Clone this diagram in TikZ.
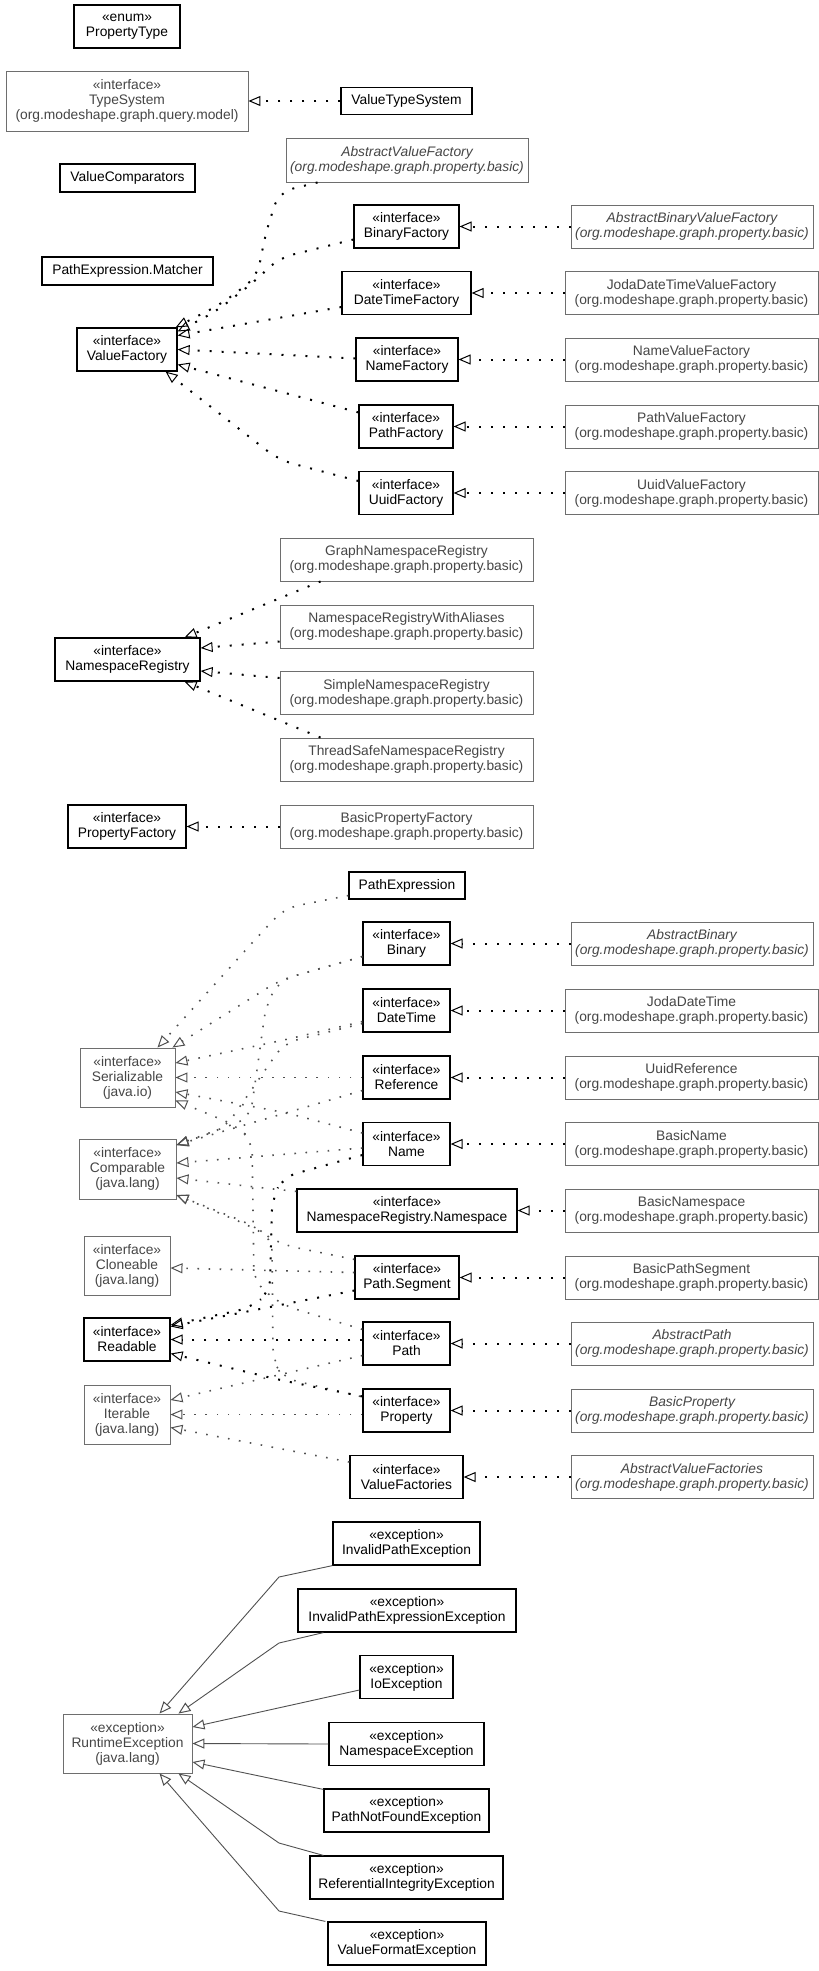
\documentclass[tikz,border=0pt]{standalone}
\usepackage{fontspec}
\setmainfont{Liberation Sans}
\usetikzlibrary{arrows.meta,calc}
\definecolor{extb}{RGB}{110,110,110}
\definecolor{extt}{RGB}{70,70,70}
\definecolor{edgeg}{RGB}{80,80,80}
\newcommand\pkgb{(org.modeshape.graph.property.basic)}
\newcommand\ifc{«interface»\\}
\newcommand\exc{«exception»\\}
\tikzset{
 box/.style={draw, rectangle, inner sep=0pt, align=center, fill=white, font=\fontsize{13.8}{15}\selectfont},
 cls/.style={box, draw=black, line width=1.2pt, text=black},
 ext/.style={box, draw=extb, line width=0.9pt, text=extt},
 exti/.style={ext, font=\fontsize{13.8}{15}\selectfont\itshape},
 tip/.style={-{Triangle[open,length=12pt,width=10pt,line width=1pt]}},
 realb/.style={tip, draw=black, line width=2pt, dash pattern=on 2pt off 10pt, rounded corners=14pt},
 realg/.style={tip, draw=edgeg, line width=1.6pt, dash pattern=on 1.6pt off 9.5pt, rounded corners=14pt},
 gen/.style={tip, draw=edgeg, line width=0.9pt},
 s2/.style={minimum height=43pt},
 s3/.style={minimum height=59pt},
 s1/.style={minimum height=27pt},
}
\begin{document}
\begin{tikzpicture}[x=1pt,y=-1pt]
\useasboundingbox (0,0) rectangle (819,1971);
% ---------- top ----------
\node[cls,s2,minimum width=106pt] (pt) at (127,26.5) {«enum»\\PropertyType};
\node[ext,minimum width=242pt,minimum height=60pt] (ts) at (127,101) {\ifc TypeSystem\\(org.modeshape.graph.query.model)};
\node[cls,s1,minimum width=131pt] (vts) at (406.5,101) {ValueTypeSystem};
\node[cls,minimum height=28pt,minimum width=135pt] (vc) at (127.5,178) {ValueComparators};
\node[cls,minimum height=28pt,minimum width=171pt] (pem) at (127.5,271) {PathExpression.Matcher};
% ---------- value factories ----------
\node[exti,minimum width=242pt,minimum height=44pt] (avf) at (407,160) {AbstractValueFactory\\\pkgb};
\node[cls,s2,minimum width=100pt] (vf) at (127,349.5) {\ifc ValueFactory};
\node[cls,s2,minimum width=105pt] (bf) at (406.5,226.5) {\ifc BinaryFactory};
\node[cls,s2,minimum width=129pt] (dtf) at (406.5,293) {\ifc DateTimeFactory};
\node[cls,s2,minimum width=102pt] (nf) at (407,359.5) {\ifc NameFactory};
\node[cls,s2,minimum width=94pt] (pf) at (406,426.5) {\ifc PathFactory};
\node[cls,s2,minimum width=94pt] (uf) at (406,493) {\ifc UuidFactory};
\node[exti,s2,minimum width=242pt] (abvf) at (692,226.5) {AbstractBinaryValueFactory\\\pkgb};
\node[ext,s2,minimum width=253pt] (jdtvf) at (691.5,293) {JodaDateTimeValueFactory\\\pkgb};
\node[ext,s2,minimum width=253pt] (nvf) at (691.5,359.5) {NameValueFactory\\\pkgb};
\node[ext,s2,minimum width=253pt] (pvf) at (691.5,426.5) {PathValueFactory\\\pkgb};
\node[ext,s2,minimum width=253pt] (uvf) at (691.5,493) {UuidValueFactory\\\pkgb};
% ---------- namespace registry ----------
\node[cls,s2,minimum width=145pt] (nr) at (127.5,659.5) {\ifc NamespaceRegistry};
\node[ext,s2,minimum width=253pt] (gnr) at (406.5,559.5) {GraphNamespaceRegistry\\\pkgb};
\node[ext,s2,minimum width=253pt] (nrwa) at (406.5,626.5) {NamespaceRegistryWithAliases\\\pkgb};
\node[ext,s2,minimum width=253pt] (snr) at (406.5,693) {SimpleNamespaceRegistry\\\pkgb};
\node[ext,s2,minimum width=253pt] (tsnr) at (406.5,759.5) {ThreadSafeNamespaceRegistry\\\pkgb};
\node[cls,s2,minimum width=118pt] (pfac) at (127,826.5) {\ifc PropertyFactory};
\node[ext,s2,minimum width=253pt] (bpf) at (406.5,826.5) {BasicPropertyFactory\\\pkgb};
% ---------- middle ----------
\node[cls,s1,minimum width=116pt] (pe) at (407,885.5) {PathExpression};
\node[cls,s2,minimum width=87pt] (bin) at (406.5,943.5) {\ifc Binary};
\node[cls,s2,minimum width=87pt] (dt) at (406.5,1010.5) {\ifc DateTime};
\node[cls,s2,minimum width=87pt] (ref) at (406.5,1077.5) {\ifc Reference};
\node[cls,s2,minimum width=87pt] (name) at (406.5,1144) {\ifc Name};
\node[cls,s2,minimum width=220pt] (ns) at (407,1210.5) {\ifc NamespaceRegistry.Namespace};
\node[cls,s2,minimum width=104pt] (seg) at (407,1277.5) {\ifc Path.Segment};
\node[cls,s2,minimum width=87pt] (path) at (406.5,1343.5) {\ifc Path};
\node[cls,s2,minimum width=87pt] (prop) at (406.5,1410.5) {\ifc Property};
\node[cls,s2,minimum width=113pt] (vfs) at (406.5,1477) {\ifc ValueFactories};
\node[exti,s2,minimum width=242pt] (ab) at (692,943.5) {AbstractBinary\\\pkgb};
\node[ext,s2,minimum width=253pt] (jdt) at (691.5,1010.5) {JodaDateTime\\\pkgb};
\node[ext,s2,minimum width=253pt] (uref) at (691.5,1077.5) {UuidReference\\\pkgb};
\node[ext,s2,minimum width=253pt] (bn) at (691.5,1144) {BasicName\\\pkgb};
\node[ext,s2,minimum width=253pt] (bns) at (691.5,1210.5) {BasicNamespace\\\pkgb};
\node[ext,s2,minimum width=253pt] (bps) at (691.5,1277.5) {BasicPathSegment\\\pkgb};
\node[exti,s2,minimum width=242pt] (ap) at (692,1343.5) {AbstractPath\\\pkgb};
\node[exti,s2,minimum width=242pt] (bp) at (692,1410.5) {BasicProperty\\\pkgb};
\node[exti,s2,minimum width=242pt] (avfs) at (692,1477) {AbstractValueFactories\\\pkgb};
\node[ext,s3,minimum width=95pt] (ser) at (127.5,1077.5) {\ifc Serializable\\(java.io)};
\node[ext,minimum height=60pt,minimum width=97pt] (cmp) at (127.5,1169) {\ifc Comparable\\(java.lang)};
\node[ext,s3,minimum width=86pt] (cln) at (127,1265.5) {\ifc Cloneable\\(java.lang)};
\node[cls,s2,minimum width=86pt] (rd) at (127,1339.5) {\ifc Readable};
\node[ext,s3,minimum width=86pt] (itr) at (127,1414.5) {\ifc Iterable\\(java.lang)};
% ---------- exceptions ----------
\node[ext,s3,minimum width=129pt] (rte) at (127.5,1743.5) {\exc RuntimeException\\(java.lang)};
\node[cls,s2,minimum width=147pt] (ipe) at (406.5,1543.5) {\exc InvalidPathException};
\node[cls,s2,minimum width=218pt] (ipee) at (407,1610.5) {\exc InvalidPathExpressionException};
\node[cls,s2,minimum width=93pt] (ioe) at (406.5,1677) {\exc IoException};
\node[cls,s2,minimum width=155pt] (nse) at (406.5,1744) {\exc NamespaceException};
\node[cls,s2,minimum width=165pt] (pnf) at (406.5,1810.5) {\exc PathNotFoundException};
\node[cls,s2,minimum width=193pt] (rie) at (406.5,1877.5) {\exc ReferentialIntegrityException};
\node[cls,s2,minimum width=158pt] (vfe) at (407,1943.5) {\exc ValueFormatException};

% ---------- horizontal realizations ----------
\foreach \a/\b in {vts/ts,abvf/bf,jdtvf/dtf,nvf/nf,pvf/pf,uvf/uf,bpf/pfac,ab/bin,jdt/dt,uref/ref,bn/name,bns/ns,bps/seg,ap/path,bp/prop,avfs/vfs}
  \draw[realb] (\a.west) -- (\b.east);

% ---------- value factory ----------
\draw[realb] ($(avf.south west)+(32,0)$) -- (279,192) -- (266,232) -- (257,277) -- (221,304) -- ($(vf.north east)+(-2,0)$);
\draw[realb] ($(bf.west)+(0,13)$) -- (279,258) -- (255,281) -- (215,312) -- ($(vf.east)+(0,-18)$);
\draw[realb] ($(dtf.west)+(0,14)$) -- ($(vf.east)+(0,-14)$);
\draw[realb] ($(nf.west)+(0,-1)$) -- (vf.east);
\draw[realb] ($(pf.north west)+(0,8)$) -- ($(vf.east)+(0,15)$);
\draw[realb] ($(uf.west)+(0,-12)$) -- (279,460) -- ($(vf.south east)+(-12,0)$);

% ---------- namespace registry ----------
\draw[realb] ($(gnr.south west)+(41,0)$) -- ($(nr.north east)+(-16,0)$);
\draw[realb] ($(nrwa.west)+(0,15)$) -- ($(nr.east)+(0,-11.5)$);
\draw[realb] ($(snr.west)+(0,-15)$) -- ($(nr.east)+(0,11.5)$);
\draw[realb] ($(tsnr.north west)+(41,0)$) -- ($(nr.south east)+(-16,0)$);

% ---------- Serializable ----------
\draw[realg] ($(pe.west)+(0,10)$) -- (285,908) -- (262,932) -- ($(ser.north)+(30,0)$);
\draw[realg] ($(bin.west)+(0,13)$) -- (280,980) -- ($(ser.north east)+(-3,0)$);
\draw[realg] ($(dt.west)+(0,11)$) -- (284,1040) -- ($(ser.east)+(0,-14.5)$);
\draw[realg] (ref.west) -- (ser.east);
\draw[realg] ($(name.west)+(0,-11)$) -- (287,1113) -- ($(ser.east)+(0,14.5)$);
\draw[realg] ($(path.north west)+(0,8)$) -- (282,1305) -- (254,1282) -- (252,1140) -- (235,1125) -- ($(ser.south east)+(0,-7)$);
% ---------- Comparable ----------
\draw[realg] ($(bin.west)+(0,13)$) -- (280,980) -- (266,1005) -- (257,1070) -- (250,1118) -- ($(cmp.east)+(0,-24)$);
\draw[realg] ($(dt.west)+(0,13)$) -- (284,1043) -- (225,1128) -- ($(cmp.east)+(0,-24)$);
\draw[realg] ($(ref.west)+(0,13)$) -- ($(cmp.east)+(0,-24)$);
\draw[realg] ($(name.west)+(0,4)$) -- ($(cmp.east)+(0,-6)$);
\draw[realg] ($(ns.north west)+(0,3)$) -- (255,1187) -- ($(cmp.east)+(0,9)$);
\draw[realg] ($(seg.north west)+(0,4)$) -- (283,1245) -- (250,1226) -- ($(cmp.east)+(0,26)$);
\draw[realg] ($(prop.north west)+(-2,8)$) -- (283,1378) -- (273,1360) -- (272,1238) -- (250,1224) -- ($(cmp.east)+(0,26)$);
% ---------- Cloneable ----------
\draw[realg] ($(seg.west)+(0,-5)$) -- ($(cln.east)+(0,2.5)$);
% ---------- Iterable ----------
\draw[realg] ($(path.west)+(0,12)$) -- ($(itr.east)+(0,-14.5)$);
\draw[realg] ($(prop.west)+(0,4)$) -- (itr.east);
\draw[realg] ($(vfs.west)+(0,-15)$) -- ($(itr.east)+(0,13)$);
% ---------- Readable ----------
\draw[realb] ($(name.west)+(0,11)$) -- (283,1177) -- (272,1200) -- (270,1292) -- (250,1308) -- ($(rd.east)+(0,-14.5)$);
\draw[realb] ($(seg.west)+(0,13)$) -- ($(rd.east)+(0,-13)$);
\draw[realb] ($(path.west)+(0,-4)$) -- (rd.east);
\draw[realb] ($(prop.north west)+(0,8)$) -- (280,1380) -- ($(rd.east)+(0,14)$);

% ---------- exceptions ----------
\draw[gen] (ipe.south west) -- (279,1577) -- ($(rte.north)+(32,0)$);
\draw[gen] ($(ipee.south west)+(26,0)$) -- (279,1643) -- ($(rte.north east)+(-14,0)$);
\draw[gen] ($(ioe.west)+(0,13)$) -- ($(rte.east)+(0,-16.5)$);
\draw[gen] (nse.west) -- (rte.east);
\draw[gen] ($(pnf.north west)+(0,1)$) -- ($(rte.east)+(0,18.5)$);
\draw[gen] ($(rie.north west)+(14,0)$) -- (279,1843) -- ($(rte.south east)+(-14,0)$);
\draw[gen] ($(vfe.north west)+(-2,0)$) -- (279,1911) -- ($(rte.south)+(32,0)$);
\end{tikzpicture}
\end{document}
